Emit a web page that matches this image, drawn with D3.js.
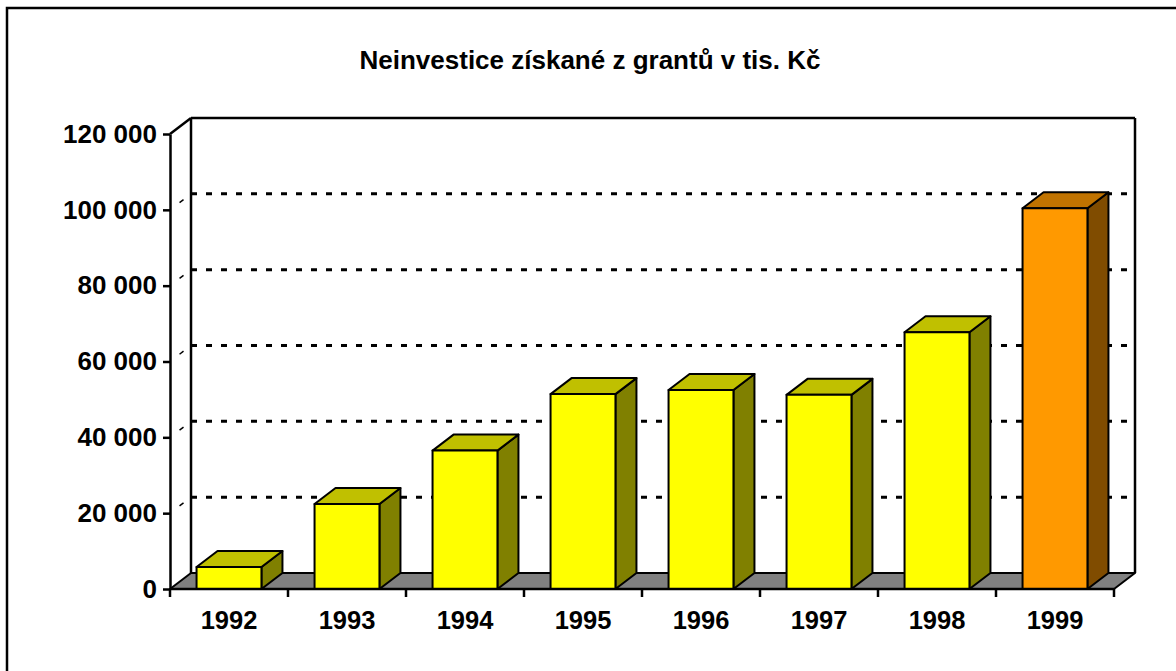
<!DOCTYPE html>
<html><head><meta charset="utf-8">
<script src="https://cdn.jsdelivr.net/npm/d3@7"></script>
<style>
html,body{margin:0;padding:0;background:#fff;}
svg{display:block;font-family:Arial,"Liberation Sans",sans-serif;}
</style></head>
<body>
<svg id="c" width="1176" height="671"></svg>
<script>
const title = "Neinvestice získané z grantů v tis. Kč";
const years = ["1992","1993","1994","1995","1996","1997","1998","1999"];
const values = [5800, 22400, 36500, 51400, 52500, 51200, 67700, 100400];
const yTicks = [0, 20000, 40000, 60000, 80000, 100000, 120000];
const highlight = ["1999"];

const svg = d3.select("#c");
const DX = 21, DY = -16;      // 3D depth offset
const x0 = 170, x1 = 1114, yBase = 589, yTop = 134;
const FS = 26;

svg.append("rect").attr("x", 7).attr("y", 8).attr("width", 1190).attr("height", 690)
  .attr("fill", "#fff").attr("stroke", "#000").attr("stroke-width", 2.5);

const x = d3.scaleBand().domain(years).range([x0, x1]).padding(0);
const y = d3.scaleLinear().domain([0, 120000]).range([yBase, yTop]);

svg.append("text").attr("x", 590).attr("y", 69).attr("text-anchor", "middle")
  .attr("font-size", FS).attr("font-weight", "bold").text(title);

// floor
const floorPts = [[x0, yBase], [x1, yBase], [x1 + DX, yBase + DY], [x0 + DX, yBase + DY]];
svg.append("polygon").attr("points", floorPts.map(p => p.join(",")).join(" "))
  .attr("fill", "#808080").attr("stroke", "#000").attr("stroke-width", 2).attr("stroke-linejoin", "round");

// back wall gridlines
const gl = svg.append("g");
yTicks.filter(t => t > 0 && t < 120000).forEach(t => {
  gl.append("line").attr("x1", x0 + DX).attr("x2", x1 + DX)
    .attr("y1", y(t) + DY).attr("y2", y(t) + DY)
    .attr("stroke", "#000").attr("stroke-width", 3).attr("stroke-dasharray", "6,9");
  gl.append("line").attr("x1", x0).attr("x2", x0 + DX)
    .attr("y1", y(t)).attr("y2", y(t) + DY)
    .attr("stroke", "#000").attr("stroke-width", 1.5).attr("stroke-dasharray", "0,12,5,30");
});
// back wall top & edges
gl.append("line").attr("x1", x0 + DX).attr("x2", x1 + DX).attr("y1", y(120000) + DY).attr("y2", y(120000) + DY)
  .attr("stroke", "#000").attr("stroke-width", 2.5);
gl.append("line").attr("x1", x0).attr("x2", x0 + DX).attr("y1", y(120000)).attr("y2", y(120000) + DY)
  .attr("stroke", "#000").attr("stroke-width", 2.5);
gl.append("line").attr("x1", x0 + DX).attr("x2", x0 + DX).attr("y1", y(120000) + DY).attr("y2", yBase + DY)
  .attr("stroke", "#000").attr("stroke-width", 2.5);
gl.append("line").attr("x1", x1 + DX).attr("x2", x1 + DX).attr("y1", y(120000) + DY).attr("y2", yBase + DY)
  .attr("stroke", "#000").attr("stroke-width", 2.5);

// bars
const bw = x.bandwidth() * 0.55;
const colors = {
  normal: {front: "#FFFF00", top: "#C0C000", side: "#808000"},
  hi: {front: "#FF9900", top: "#C07300", side: "#804C00"}
};
const bars = svg.append("g").selectAll("g").data(years.map((yr, i) => ({yr, v: values[i]})))
  .join("g");
bars.each(function(d) {
  const g = d3.select(this);
  const c = highlight.includes(d.yr) ? colors.hi : colors.normal;
  const l = x(d.yr) + (x.bandwidth() - bw) / 2, r = l + bw;
  const t = y(d.v), b = yBase;
  const pt = ps => ps.map(p => p.join(",")).join(" ");
  const st = s => s.attr("stroke", "#000").attr("stroke-width", 2).attr("stroke-linejoin", "round");
  st(g.append("polygon").attr("points", pt([[r, t], [r + DX, t + DY], [r + DX, b + DY], [r, b]])).attr("fill", c.side));
  st(g.append("polygon").attr("points", pt([[l, t], [l + DX, t + DY], [r + DX, t + DY], [r, t]])).attr("fill", c.top));
  st(g.append("rect").attr("x", l).attr("y", t).attr("width", bw).attr("height", b - t)).attr("fill", c.front);
});

// y axis
const fmt = d3.formatLocale({thousands: " ", grouping: [3], decimal: ",", currency: ["", ""]}).format(",");
const ya = svg.append("g").attr("transform", `translate(${x0},0)`)
  .call(d3.axisLeft(y).tickValues(yTicks).tickFormat(fmt).tickSize(7).tickPadding(6).tickSizeOuter(0));
ya.select(".domain").attr("stroke-width", 2.5);
ya.selectAll(".tick line").attr("stroke-width", 2.5);
ya.selectAll("text").attr("font-size", FS).attr("font-weight", "bold")
  .attr("font-family", "Arial, 'Liberation Sans', sans-serif").attr("fill", "#000");

// x axis
const xa = svg.append("g");
xa.append("line").attr("x1", x0).attr("x2", x1).attr("y1", yBase).attr("y2", yBase)
  .attr("stroke", "#000").attr("stroke-width", 2.5);
const bounds = years.map(yr => x(yr)).concat([x(years[years.length - 1]) + x.bandwidth()]);
xa.selectAll("line.tk").data(bounds).join("line").attr("class", "tk")
  .attr("x1", d => d).attr("x2", d => d).attr("y1", yBase).attr("y2", yBase + 8)
  .attr("stroke", "#000").attr("stroke-width", 2.5);
xa.selectAll("text").data(years).join("text")
  .attr("x", d => x(d) + x.bandwidth() / 2).attr("y", 629).attr("text-anchor", "middle")
  .attr("font-size", FS - 0.5).attr("font-weight", "bold").text(d => d);
</script>
</body></html>
